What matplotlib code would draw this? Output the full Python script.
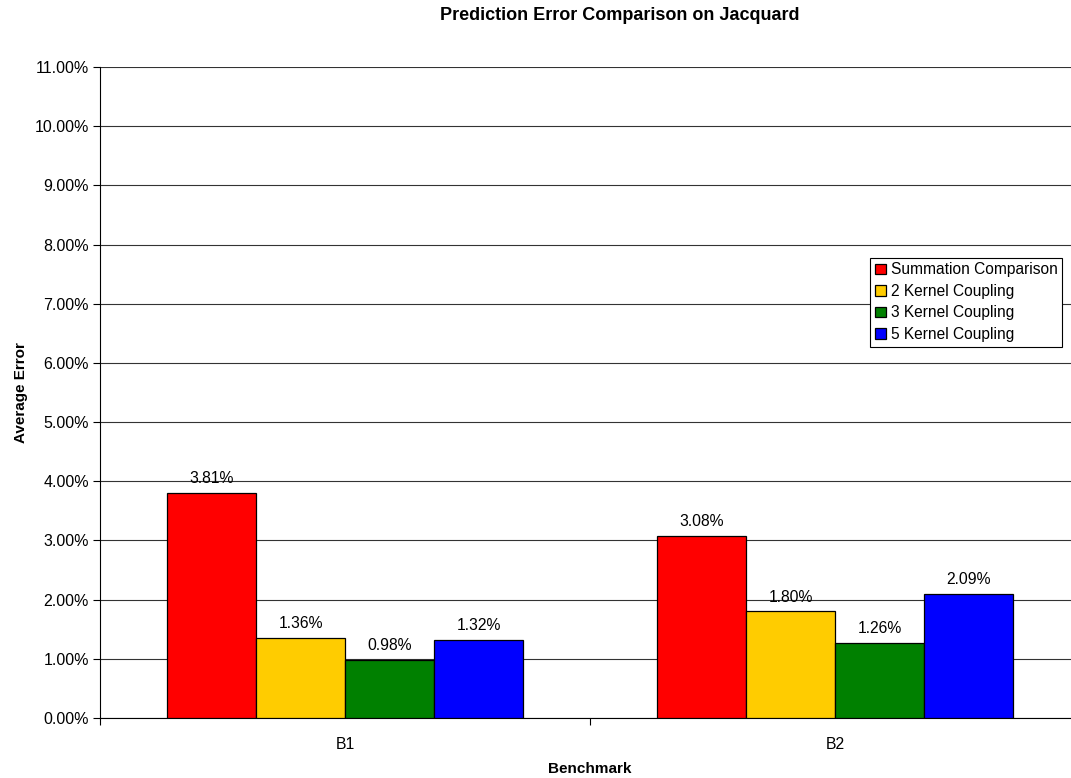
import numpy as np
import matplotlib.pyplot as plt
from matplotlib.ticker import PercentFormatter

# -------------------------------
# Datos (error promedio, en fraccion)
benchmarks = ["B1", "B2"]
series = ["Summation Comparison", "2 Kernel Coupling", "3 Kernel Coupling", "5 Kernel Coupling"]
summation = [0.0381, 0.0308]
kernel2 = [0.0136, 0.0180]
kernel3 = [0.0098, 0.0126]
kernel5 = [0.0132, 0.0209]
colores = ["#FF0000", "#FFCC00", "#008000", "#0000FF"]

plt.rcParams['font.family'] = ['Liberation Sans', 'DejaVu Sans']

fig = plt.figure(figsize=(10.71, 7.78), dpi=100)
# el area de trazado se sale un poco por la derecha, como en el original
ax = fig.add_axes([100 / 1071, 60 / 778, 980 / 1071, 651 / 778])

valores = [summation, kernel2, kernel3, kernel5]
ancho = 89 / 490
centros = np.arange(len(benchmarks)) + 0.5
for i, (nombre, vals, col) in enumerate(zip(series, valores, colores)):
    xs = centros + (i - 1.5) * ancho
    barras = ax.bar(xs, vals, width=ancho, color=col, edgecolor='black',
                    linewidth=0.9, label=nombre, zorder=3)
    for b, v in zip(barras, vals):
        ax.annotate(f"{v * 100:.2f}%", (b.get_x() + b.get_width() / 2, v),
                    xytext=(0, 5), textcoords='offset points',
                    ha='center', va='bottom', fontsize=11.3)

ax.set_xlim(0, len(benchmarks))
ax.set_ylim(0, 0.11)
ax.set_yticks(np.arange(0, 0.111, 0.01))
ax.yaxis.set_major_formatter(PercentFormatter(1.0, decimals=2))
ax.yaxis.grid(True, color='#333333', linewidth=0.8, zorder=0)

# ticks del eje x en los separadores, etiquetas en el centro
ax.set_xticks(np.arange(len(benchmarks) + 1))
ax.set_xticklabels([])
ax.set_xticks(centros, minor=True)
ax.set_xticklabels(benchmarks, minor=True)
ax.tick_params(axis='x', which='minor', length=0, pad=14, labelsize=11.3)
ax.tick_params(axis='x', which='major', length=5, direction='out')
ax.tick_params(axis='y', length=5, direction='out', labelsize=11.5, pad=3)

for lado in ['top', 'right']:
    ax.spines[lado].set_visible(False)
ax.spines['left'].set_color('black')
ax.spines['bottom'].set_color('black')

ax.set_xlabel("Benchmark", fontweight='bold', fontsize=11, labelpad=7)
ax.set_ylabel("Average Error", fontweight='bold', fontsize=11, labelpad=5)
fig.text(620 / 1071, 1 - 15 / 778, "Prediction Error Comparison on Jacquard",
         ha='center', va='center', fontweight='bold', fontsize=13)

leg = ax.legend(loc='upper left', bbox_to_anchor=(0.786, 0.707), fancybox=False,
                edgecolor='black', framealpha=1, fontsize=11.2,
                handlelength=0.7, handleheight=0.7, handletextpad=0.3,
                borderpad=0.3, labelspacing=0.42, borderaxespad=0)
leg.get_frame().set_linewidth(0.8)

fig.savefig("out.png", dpi=100)
